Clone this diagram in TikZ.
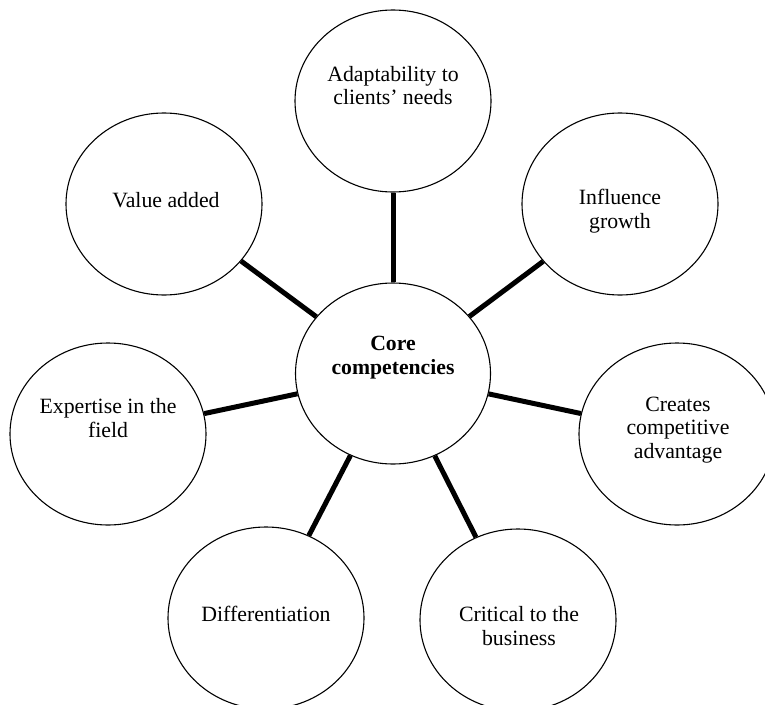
\documentclass[tikz,border=0pt]{standalone}
\usepackage{fontspec}
\setmainfont{Liberation Serif}
\usetikzlibrary{shapes.geometric}
\begin{document}
\begin{tikzpicture}[x=1pt,y=-1pt,
  bubble/.style={draw=black,line width=1.1pt,ellipse,inner sep=0pt,
    minimum width=196pt,minimum height=182pt,fill=white},
  core/.style={bubble,minimum width=195pt,minimum height=181pt},
  lbl/.style={align=center,inner sep=0pt,font=\fontsize{21.8}{23.5}\selectfont},
  corelbl/.style={lbl,font=\fontsize{21.7}{24.5}\selectfont\bfseries},
  spoke/.style={line width=5pt,black}]
\useasboundingbox (0,0) rectangle (765,704);
\clip (0,0) rectangle (765,704);
\fill[white] (0,0) rectangle (765,704);
% nodes
\node[core]   (c)  at (393,373.5) {};
\node[bubble] (t)  at (393,101) {};
\node[bubble] (va) at (164,204) {};
\node[bubble] (ig) at (620,204) {};
\node[bubble] (ex) at (108,434) {};
\node[bubble] (cr) at (677,434) {};
\node[bubble] (di) at (266,618) {};
\node[bubble] (cb) at (518,620) {};
% spokes
\draw[spoke] (c) -- (t);
\draw[spoke] (c) -- (va);
\draw[spoke] (c) -- (ig);
\draw[spoke] (c) -- (ex);
\draw[spoke] (c) -- (cr);
\draw[spoke] (c) -- (di);
\draw[spoke] (c) -- (cb);
% labels
\node[corelbl] (lc)  at (393,357.5) {Core\\competencies};
\node[lbl]     (lt)  at (393,85.5) {Adaptability to\\clients’ needs};
\node[lbl]     (lva) at (166,200) {Value added};
\node[lbl]     (lig) at (620,211) {Influence\\growth};
\node[lbl]     (lex) at (108,418) {Expertise in the\\field};
\node[lbl]     (lcr) at (678,430) {Creates\\competitive\\advantage};
\node[lbl]     (ldi) at (266,614) {Differentiation};
\node[lbl]     (lcb) at (519,626) {Critical to the\\business};
\end{tikzpicture}
\end{document}
